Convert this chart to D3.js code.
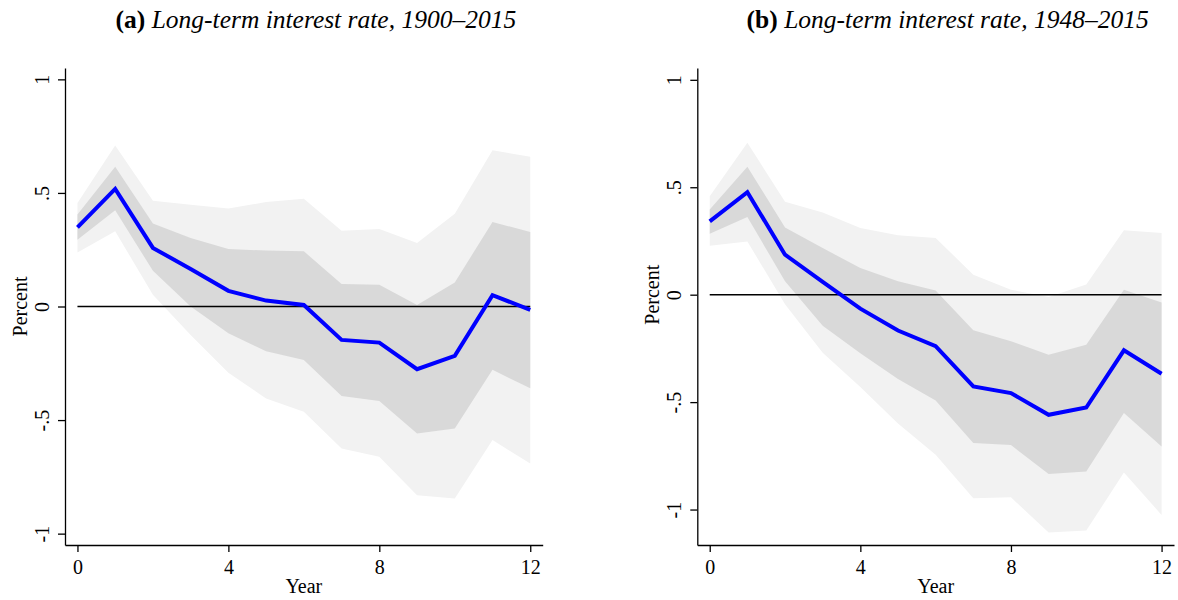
<!DOCTYPE html>
<html>
<head>
<meta charset="utf-8">
<script src="https://cdn.jsdelivr.net/npm/d3@7"></script>
<style>
  body { margin: 0; background: #fff; }
  svg { display: block; }
  text { font-family: "Liberation Serif", "Times New Roman", serif; fill: #000; }
</style>
</head>
<body>
<svg id="chart" width="1178" height="600"></svg>
<script>
// ---- Data ----
const years = [0,1,2,3,4,5,6,7,8,9,10,11,12];
const xTicks = [0,4,8,12];
const yTicks = [-1,-0.5,0,0.5,1];
const yTickLabels = ["-1","-.5","0",".5","1"];

// Panel (a) 1900–2015
const irfA   = [0.348, 0.518, 0.258, 0.165, 0.069, 0.026, 0.007, -0.147, -0.159, -0.276, -0.217, 0.050, -0.015];
const hi68A  = [0.405, 0.615, 0.365, 0.302, 0.253, 0.246, 0.243, 0.099, 0.096, 0.007, 0.106, 0.372, 0.328];
const lo68A  = [0.294, 0.424, 0.157, 0.000, -0.118, -0.197, -0.235, -0.394, -0.416, -0.559, -0.537, -0.279, -0.360];
const hi95A  = [0.456, 0.709, 0.466, 0.448, 0.431, 0.460, 0.474, 0.334, 0.341, 0.280, 0.408, 0.688, 0.659];
const lo95A  = [0.238, 0.331, 0.052, -0.125, -0.292, -0.405, -0.463, -0.625, -0.662, -0.831, -0.845, -0.588, -0.691];

// Panel (b) 1948–2015
const irfB   = [0.341, 0.477, 0.186, 0.060, -0.065, -0.167, -0.240, -0.427, -0.458, -0.559, -0.525, -0.259, -0.368];
const hi68B  = [0.396, 0.595, 0.313, 0.217, 0.124, 0.062, 0.020, -0.166, -0.217, -0.279, -0.233, 0.023, -0.036];
const lo68B  = [0.284, 0.362, 0.062, -0.145, -0.272, -0.392, -0.493, -0.690, -0.700, -0.835, -0.823, -0.551, -0.706];
const hi95B  = [0.458, 0.707, 0.432, 0.383, 0.310, 0.277, 0.264, 0.093, 0.023, -0.011, 0.047, 0.300, 0.287];
const lo95B  = [0.228, 0.248, -0.045, -0.270, -0.430, -0.600, -0.745, -0.947, -0.943, -1.107, -1.098, -0.828, -1.025];

const titleA = { label: "(a)", text: "Long-term interest rate, 1900–2015" };
const titleB = { label: "(b)", text: "Long-term interest rate, 1948–2015" };

// ---- Drawing ----
const svg = d3.select("#chart");

function drawPanel(cfg) {
  const g = svg.append("g");
  const x = d3.scaleLinear().domain([-0.33, 12.33]).range([cfg.left, cfg.right]);
  const y = d3.scaleLinear().domain(cfg.yDomain).range([cfg.bottom, cfg.top]);

  const bandArea = (lo, hi) => d3.area()
    .x((d, i) => x(years[i]))
    .y0((d, i) => y(lo[i]))
    .y1((d, i) => y(hi[i]));

  g.append("path").datum(years).attr("d", bandArea(cfg.lo95, cfg.hi95)).attr("fill", "#f2f2f2");
  g.append("path").datum(years).attr("d", bandArea(cfg.lo68, cfg.hi68)).attr("fill", "#d9d9d9");

  // zero line
  g.append("line")
    .attr("x1", x(0)).attr("x2", x(12))
    .attr("y1", y(0)).attr("y2", y(0))
    .attr("stroke", "#000").attr("stroke-width", 1.5);

  // IRF line
  g.append("path").datum(cfg.irf)
    .attr("d", d3.line().x((d, i) => x(years[i])).y(d => y(d)))
    .attr("fill", "none").attr("stroke", "#0000ff")
    .attr("stroke-width", 4).attr("stroke-linejoin", "miter");

  // Y axis
  const yAxis = d3.axisLeft(y).tickValues(yTicks).tickSize(7).tickSizeOuter(0)
    .tickFormat((d, i) => yTickLabels[i]);
  const ya = g.append("g").attr("transform", `translate(${cfg.left},0)`).call(yAxis);
  ya.selectAll("path, line").attr("stroke", "#000").attr("stroke-width", 1.3);
  ya.selectAll("text").remove();
  ya.selectAll(".tick").append("text")
    .attr("transform", "translate(-16,0) rotate(-90)")
    .attr("text-anchor", "middle")
    .attr("font-size", 20)
    .text((d, i) => yTickLabels[i]);

  // X axis
  const xAxis = d3.axisBottom(x).tickValues(xTicks).tickSize(7).tickSizeOuter(0);
  const xa = g.append("g").attr("transform", `translate(0,${cfg.bottom})`).call(xAxis);
  xa.selectAll("path, line").attr("stroke", "#000").attr("stroke-width", 1.3);
  xa.selectAll("text").remove();
  xa.selectAll(".tick").append("text")
    .attr("y", 29).attr("text-anchor", "middle").attr("font-size", 20)
    .text(d => d);

  // Axis titles
  g.append("text")
    .attr("transform", `translate(${cfg.left - 38},${y(0)}) rotate(-90)`)
    .attr("text-anchor", "middle").attr("font-size", 20).text("Percent");
  g.append("text")
    .attr("x", (cfg.left + cfg.right) / 2).attr("y", 593)
    .attr("text-anchor", "middle").attr("font-size", 20).text("Year");

  // Panel title
  const t = g.append("text")
    .attr("x", (cfg.left + cfg.right) / 2 + 12).attr("y", 28)
    .attr("text-anchor", "middle").attr("font-size", 25.5);
  t.append("tspan").attr("font-weight", "bold").text(cfg.title.label + " ");
  t.append("tspan").attr("font-style", "italic").text(cfg.title.text);
}

drawPanel({
  left: 65, right: 542.7, top: 68, bottom: 545,
  yDomain: [-1.05, 1.05],
  irf: irfA, hi68: hi68A, lo68: lo68A, hi95: hi95A, lo95: lo95A,
  title: titleA
});
drawPanel({
  left: 697.3, right: 1174, top: 68, bottom: 545,
  yDomain: [-1.165, 1.055],
  irf: irfB, hi68: hi68B, lo68: lo68B, hi95: hi95B, lo95: lo95B,
  title: titleB
});
</script>
</body>
</html>
